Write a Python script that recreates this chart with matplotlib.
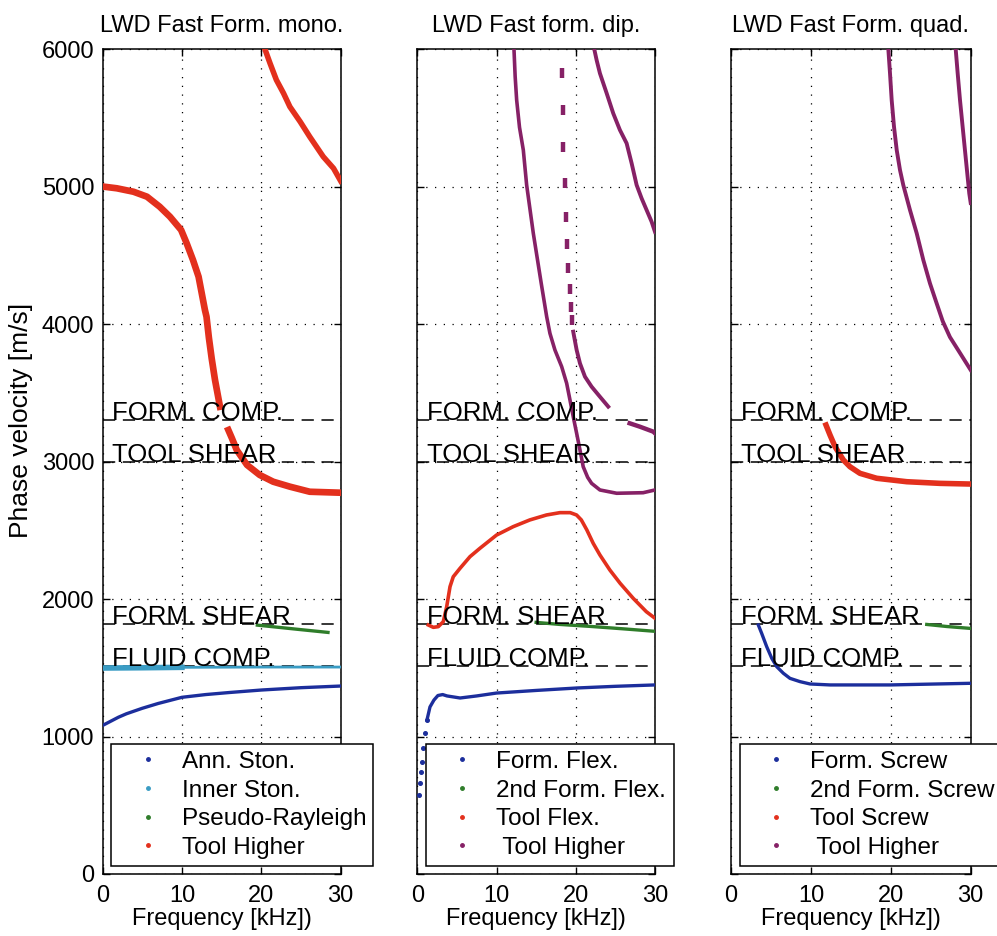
import numpy as np
import matplotlib.pyplot as plt
from matplotlib.lines import Line2D

plt.rcParams['font.family'] = ['Liberation Sans', 'DejaVu Sans']

# reference velocities (m/s)
ref_names = ['FORM. COMP.', 'TOOL SHEAR', 'FORM. SHEAR', 'FLUID COMP.']
ref_vel = [3300, 3000, 1820, 1510]

titles = ['LWD Fast Form. mono.', 'LWD Fast form. dip.', 'LWD Fast Form. quad.']

# ---- monopole ----
mono_ann_f = [0, 1, 2, 3, 5, 7, 10, 13, 16, 20, 25, 30]
mono_ann_v = [1080, 1110, 1140, 1165, 1205, 1240, 1285, 1305, 1320, 1338, 1355, 1367]

mono_inner_f = [0, 5, 10, 15, 20, 25, 30]
mono_inner_v = [1498, 1500, 1503, 1504, 1505, 1505, 1505]

mono_pr_f = [19.5, 22, 25, 28.4]
mono_pr_v = [1810, 1795, 1777, 1757]

mono_th1_f = [0, 1.8, 3.9, 5.6, 7.2, 8.5, 9.9, 10.6, 11.4, 12.1, 12.5, 12.9, 13.1,
              13.4, 13.75, 14.17, 14.8, np.nan,
              15.85, 16.3, 16.9, 18.2, 19.8, 21.5, 23.6, 26.1, 30]
mono_th1_v = [5000, 4987, 4962, 4926, 4853, 4780, 4684, 4587, 4465, 4344, 4223, 4102, 4053,
              3900, 3750, 3593, 3398, np.nan,
              3229, 3169, 3084, 2975, 2902, 2853, 2817, 2780, 2773]
mono_th2_f = [20.45, 21.1, 21.9, 22.8, 23.6, 24.9, 26.1, 27.8, 29.1, 30]
mono_th2_v = [6000, 5896, 5775, 5678, 5580, 5471, 5362, 5217, 5132, 5040]

# ---- dipole ----
dip_flex_low_f = [0.21, 0.34, 0.47, 0.59, 0.72, 0.97, 1.22]
dip_flex_low_v = [574, 662, 742, 815, 916, 1025, 1120]
dip_flex_f = [1.22, 1.6, 2.1, 2.6, 3.2, 3.75, 5.4, 7.5, 10.0, 15, 20.2, 25, 30]
dip_flex_v = [1120, 1215, 1265, 1298, 1305, 1295, 1280, 1295, 1316, 1335, 1353, 1365, 1375]

dip_flex2_f = [15, 18, 22, 26, 30]
dip_flex2_v = [1830, 1815, 1800, 1783, 1765]

dip_tool_f = [1.39, 2.02, 2.65, 3.28, 3.71, 4.13, 4.54, 5.39, 6.65, 7.91, 10.0, 12.1,
              14.2, 16.3, 18.0, 19.3, 20.1, 20.7, 21.4, 22.2, 23.05, 24.3, 25.6, 27.25,
              28.9, 30]
dip_tool_v = [1811, 1794, 1799, 1835, 1944, 2090, 2162, 2223, 2308, 2369, 2465, 2526,
              2575, 2611, 2628, 2628, 2611, 2575, 2502, 2405, 2320, 2211, 2114, 2005,
              1908, 1860]

dip_th1_f = [12.2, 12.35, 12.54, 12.9, 13.38, 13.80, 14.64, 15.64, 16.33, 16.74, 17.37,
             18.22, 18.85, 19.27, 19.68, 20.11, 20.53, 20.94, 21.5, 22.0, 23.05, 25.16,
             28.5, 30]
dip_th1_v = [6000, 5800, 5629, 5430, 5265, 5011, 4660, 4296, 4053, 3932, 3811,
             3690, 3569, 3447, 3326, 3205, 3084, 2962, 2885, 2841, 2793, 2769,
             2773, 2793]

dip_th2_dash_f = [18.22, 18.35, 18.42, 18.63, 18.76, 18.93, 19.05, 19.27, 19.39, 19.56]
dip_th2_dash_v = [5823, 5556, 5285, 5023, 4780, 4582, 4405, 4252, 4126, 4029]
dip_th2_f = [19.68, 20.11, 20.53, 21.16, 22.0, 23.05, 24.1]
dip_th2_v = [3944, 3811, 3714, 3617, 3544, 3471, 3399]

dip_th3_f = [26.8, 28.1, 29.78, 30]
dip_th3_v = [3278, 3253, 3217, 3205]

dip_th4_f = [22.33, 22.63, 23.05, 23.9, 24.73, 25.57, 26.42, 27.05, 27.68, 28.31,
             28.94, 29.57, 30]
dip_th4_v = [6000, 5920, 5823, 5678, 5532, 5411, 5314, 5169, 5011, 4914,
             4829, 4744, 4670]

# ---- quadrupole ----
quad_screw_f = [3.42, 3.84, 4.47, 5.1, 5.72, 6.55, 7.38, 8.64, 9.89, 12.4, 19.9, 30]
quad_screw_v = [1811, 1750, 1653, 1569, 1508, 1460, 1423, 1399, 1382, 1375, 1375, 1387]

quad_screw2_f = [24.5, 27, 30]
quad_screw2_v = [1815, 1800, 1786]

quad_tool_f = [11.89, 12.39, 13.02, 14.06, 14.89, 16.14, 18.23, 22.0, 26.16, 30]
quad_tool_v = [3265, 3193, 3108, 3011, 2962, 2914, 2878, 2853, 2841, 2836]

quad_th1_f = [19.69, 19.9, 20.11, 20.4, 20.74, 21.15, 21.56, 22.4, 23.24, 24.07,
              24.9, 25.74, 26.5, 27.4, 28.66, 30]
quad_th1_v = [6000, 5823, 5629, 5435, 5265, 5120, 5011, 4829, 4660, 4465,
              4296, 4150, 4020, 3905, 3789, 3665]
quad_th2_f = [28.12, 28.37, 28.66, 28.99, 29.28, 29.57, 29.82, 30]
quad_th2_v = [6000, 5823, 5629, 5435, 5265, 5096, 4950, 4880]

legend_labels = [
    ['Ann. Ston.', 'Inner Ston.', 'Pseudo-Rayleigh', 'Tool Higher'],
    ['Form. Flex.', '2nd Form. Flex.', 'Tool Flex.', ' Tool Higher'],
    ['Form. Screw', '2nd Form. Screw', 'Tool Screw', ' Tool Higher'],
]

BLUE = '#1c2e9c'
CYAN = '#3a9cc4'
GREEN = '#2f7d2a'
RED = '#e3301d'
PURPLE = '#862166'

fig = plt.figure(figsize=(9.97, 9.36), dpi=100)
lefts = [102.5 / 997, 417.3 / 997, 731 / 997]
widths = [238.2 / 997, 237.7 / 997, 239.7 / 997]
axes = [fig.add_axes([l, 62 / 936, w, 825 / 936]) for l, w in zip(lefts, widths)]

for i, ax in enumerate(axes):
    ax.set_xlim(0, 30)
    ax.set_ylim(0, 6000)
    ax.set_xticks([0, 10, 20, 30])
    ax.set_yticks(range(0, 7000, 1000))
    ax.tick_params(direction='in', top=True, right=True, length=5, width=1,
                   labelsize=17, pad=6)
    ax.tick_params(axis='x', pad=8)
    if i > 0:
        ax.tick_params(labelleft=False)
    ax.grid(True, color='k', lw=0.9, ls=(0, (1, 6)))
    for s in ax.spines.values():
        s.set_linewidth(1.1)
    for name, v in zip(ref_names, ref_vel):
        ax.axhline(v, color='k', lw=1.1, ls=(0, (8, 5)), zorder=1)
        ax.text(1.2, v, name, fontsize=18.5, va='baseline', ha='left', zorder=5)
    ax.set_title(titles[i], fontsize=17, pad=12)
    ax.set_xlabel('Frequency [kHz])', fontsize=17, labelpad=1)

axes[0].set_ylabel('Phase velocity [m/s]', fontsize=19)
axes[0].yaxis.set_label_coords(-0.29, 0.55)

# monopole
ax = axes[0]
ax.plot(mono_ann_f, mono_ann_v, color=BLUE, lw=2.4, zorder=3)
ax.plot(mono_inner_f, mono_inner_v, color=CYAN, lw=2.0, zorder=3)
ax.plot(mono_inner_f[:3], mono_inner_v[:3], color=CYAN, lw=4, zorder=3)
ax.plot(mono_pr_f, mono_pr_v, color=GREEN, lw=2.4, zorder=3)
ax.plot(mono_th1_f, mono_th1_v, color=RED, lw=4.8, zorder=3)
ax.plot(mono_th2_f, mono_th2_v, color=RED, lw=4.0, zorder=3)

# dipole
ax = axes[1]
ax.plot(dip_flex_low_f, dip_flex_low_v, ls='none', marker='o', ms=2.6, color=BLUE, zorder=3)
ax.plot(dip_flex_f, dip_flex_v, color=BLUE, lw=2.4, zorder=3)
ax.plot(dip_flex2_f, dip_flex2_v, color=GREEN, lw=2.4, zorder=3)
ax.plot(dip_tool_f, dip_tool_v, color=RED, lw=2.6, zorder=3)
ax.plot(dip_th1_f, dip_th1_v, color=PURPLE, lw=2.6, zorder=3)
ax.plot(dip_th2_dash_f, dip_th2_dash_v, ls='none', marker='|', ms=7, mew=3.2,
        color=PURPLE, zorder=3)
ax.plot(dip_th2_f, dip_th2_v, color=PURPLE, lw=2.8, zorder=3)
ax.plot(dip_th3_f, dip_th3_v, color=PURPLE, lw=3.2, zorder=3)
ax.plot(dip_th4_f, dip_th4_v, color=PURPLE, lw=2.8, zorder=3)

# quadrupole
ax = axes[2]
ax.plot(quad_screw_f, quad_screw_v, color=BLUE, lw=2.4, zorder=3)
ax.plot(quad_screw2_f, quad_screw2_v, color=GREEN, lw=2.4, zorder=3)
ax.plot(quad_tool_f, quad_tool_v, color=RED, lw=4, zorder=3)
ax.plot(quad_th1_f, quad_th1_v, color=PURPLE, lw=2.8, zorder=3)
ax.plot(quad_th2_f, quad_th2_v, color=PURPLE, lw=2.8, zorder=3)

colors = [[BLUE, CYAN, GREEN, RED], [BLUE, GREEN, RED, PURPLE], [BLUE, GREEN, RED, PURPLE]]
for ax, labels, cols in zip(axes, legend_labels, colors):
    handles = [Line2D([], [], ls='none', marker='.', ms=5, color=c) for c in cols]
    leg = ax.legend(handles, labels, loc='lower left', bbox_to_anchor=(0.036, 0.0097),
                    borderaxespad=0, fontsize=17.5, frameon=True, fancybox=False,
                    edgecolor='k', framealpha=1, borderpad=0.3, handlelength=2.4,
                    handletextpad=0.2, labelspacing=0.27)
    leg.get_frame().set_linewidth(1.1)
    leg.set_zorder(10)

plt.savefig('out.png', dpi=100)
